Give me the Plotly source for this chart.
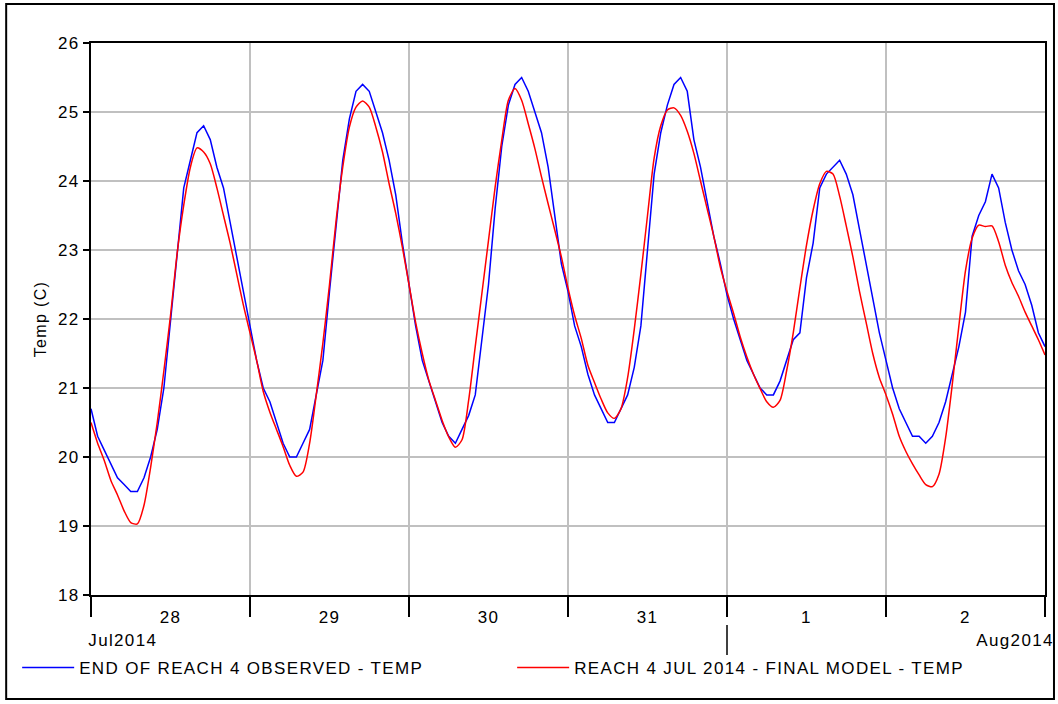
import pandas as pd
import plotly.graph_objects as go

# ---- data (hourly, 28 Jul 2014 00:00 -> 3 Aug 2014 00:00) ----
start_time = "2014-07-28 00:00"
n_hours = 145

observed_temp = [
    # Jul 28
    20.7, 20.3, 20.1, 19.9, 19.7, 19.6, 19.5, 19.5, 19.7, 20.0, 20.4, 21.0,
    22.0, 23.0, 23.9, 24.3, 24.7, 24.8, 24.6, 24.2, 23.9, 23.4, 22.9, 22.4,
    # Jul 29
    21.9, 21.4, 21.0, 20.8, 20.5, 20.2, 20.0, 20.0, 20.2, 20.4, 20.9, 21.4,
    22.4, 23.4, 24.3, 24.9, 25.3, 25.4, 25.3, 25.0, 24.7, 24.3, 23.8, 23.1,
    # Jul 30
    22.5, 21.9, 21.4, 21.1, 20.8, 20.5, 20.3, 20.2, 20.4, 20.6, 20.9, 21.7,
    22.5, 23.6, 24.5, 25.1, 25.4, 25.5, 25.3, 25.0, 24.7, 24.2, 23.5, 22.8,
    # Jul 31
    22.4, 21.9, 21.6, 21.2, 20.9, 20.7, 20.5, 20.5, 20.7, 20.9, 21.3, 21.9,
    23.0, 24.1, 24.7, 25.1, 25.4, 25.5, 25.3, 24.6, 24.2, 23.7, 23.2, 22.8,
    # Aug 1
    22.35, 22.0, 21.7, 21.4, 21.2, 21.0, 20.9, 20.9, 21.1, 21.4, 21.7, 21.8,
    22.6, 23.1, 23.9, 24.1, 24.2, 24.3, 24.1, 23.8, 23.3, 22.8, 22.3, 21.8,
    # Aug 2
    21.4, 21.0, 20.7, 20.5, 20.3, 20.3, 20.2, 20.3, 20.5, 20.8, 21.2, 21.6,
    22.1, 23.2, 23.5, 23.7, 24.1, 23.9, 23.4, 23.0, 22.7, 22.5, 22.2, 21.8,
    # Aug 3 00:00
    21.6,
]

model_temp = [
    # Jul 28
    20.5, 20.2, 19.95, 19.66, 19.45, 19.22, 19.05, 19.03, 19.3, 19.85, 20.5, 21.25,
    22.05, 22.95, 23.65, 24.2, 24.48, 24.42, 24.25, 23.9, 23.5, 23.1, 22.65, 22.2,
    # Jul 29
    21.8, 21.4, 20.95, 20.65, 20.4, 20.15, 19.88, 19.72, 19.78, 20.2, 20.9, 21.65,
    22.5, 23.43, 24.2, 24.78, 25.07, 25.16, 25.07, 24.78, 24.42, 23.96, 23.53, 23.04,
    # Jul 30
    22.5, 21.95, 21.5, 21.11, 20.82, 20.53, 20.29, 20.14, 20.25, 20.82, 21.6, 22.37,
    23.14, 23.91, 24.59, 25.17, 25.34, 25.17, 24.83, 24.47, 24.06, 23.67, 23.29, 22.9,
    # Jul 31
    22.45, 22.05, 21.72, 21.33, 21.08, 20.84, 20.64, 20.56, 20.7, 21.15, 21.85, 22.65,
    23.5, 24.33, 24.8, 25.03, 25.06, 24.95, 24.72, 24.4, 24.0, 23.6, 23.2, 22.75,
    # Aug 1
    22.4, 22.08, 21.74, 21.45, 21.2, 20.99, 20.8, 20.72, 20.82, 21.25, 21.8, 22.45,
    23.07, 23.58, 23.96, 24.14, 24.1, 23.78, 23.35, 22.9, 22.4, 21.95, 21.5, 21.15,
    # Aug 2
    20.9, 20.62, 20.3, 20.08, 19.9, 19.74, 19.6, 19.57, 19.75, 20.28, 21.05, 21.9,
    22.7, 23.17, 23.36, 23.34, 23.35, 23.12, 22.78, 22.53, 22.33, 22.1, 21.9, 21.7,
    # Aug 3 00:00
    21.48,
]

series_names = ["END OF REACH 4 OBSERVED - TEMP", "REACH 4 JUL 2014 - FINAL MODEL - TEMP"]
x_range = ["2014-07-28", "2014-08-03"]
month_labels = ["Jul2014", "Aug2014"]
month_break = "2014-08-01"
y_title = "Temp (C)"

times = pd.date_range(start_time, periods=n_hours, freq="h")

FONT = "Liberation Sans, Arial, sans-serif"

fig = go.Figure()
fig.add_trace(go.Scatter(
    x=times, y=observed_temp, mode="lines", name=series_names[0],
    line=dict(color="#0000ff", width=1.5),
))
fig.add_trace(go.Scatter(
    x=times, y=model_temp, mode="lines", name=series_names[1],
    line=dict(color="#ff0000", width=1.5, shape="spline", smoothing=0.7),
))

W, H = 1058, 704
L, R, T, B = 91, 1047, 43, 595
pw, ph = R - L, B - T


def px_x(p):
    return (p - L) / pw


def px_y(p):
    return (B - p) / ph


fig.update_layout(
    width=W, height=H,
    margin=dict(l=L, r=W - R, t=T, b=H - B, pad=0),
    paper_bgcolor="white", plot_bgcolor="white",
    font=dict(family=FONT, size=17, color="black"),
    showlegend=True,
    legend=dict(
        orientation="h", x=px_x(17), y=px_y(668), xanchor="left", yanchor="middle",
        font=dict(family=FONT, size=17, color="black"),
        entrywidth=428, entrywidthmode="pixels", itemwidth=52,
        bgcolor="rgba(0,0,0,0)", tracegroupgap=0,
    ),
    xaxis=dict(
        type="date", range=x_range, tick0=x_range[0], dtick=86400000,
        ticklabelmode="period", tickformat="%-d",
        showgrid=True, gridcolor="#c0c0c0", gridwidth=2,
        ticks="outside", ticklen=20, tickwidth=1.5, tickcolor="black",
        ticklabelstandoff=-14,
        showline=True, linecolor="black", linewidth=2, mirror=True,
        zeroline=False, tickfont=dict(size=17),
    ),
    yaxis=dict(
        range=[18, 26], tick0=18, dtick=1,
        showgrid=True, gridcolor="#c0c0c0", gridwidth=2,
        ticks="outside", ticklen=6, tickwidth=1.5, tickcolor="black",
        showline=True, linecolor="black", linewidth=2, mirror=True,
        zeroline=False, tickfont=dict(size=17),
        title=dict(text=y_title, font=dict(size=16), standoff=10),
    ),
)

# month row
fig.add_annotation(text=month_labels[0], xref="paper", yref="paper",
                   x=px_x(91), y=px_y(640), xanchor="left", yanchor="middle",
                   showarrow=False, font=dict(size=17))
fig.add_annotation(text=month_labels[1], xref="paper", yref="paper",
                   x=px_x(1053), y=px_y(640), xanchor="right", yanchor="middle",
                   showarrow=False, font=dict(size=17))
fig.add_shape(type="line", xref="x", yref="paper", x0=month_break, x1=month_break,
              y0=px_y(625), y1=px_y(655), line=dict(color="black", width=1.5))

# outer frame
fig.add_shape(type="rect", xref="paper", yref="paper",
              x0=px_x(6), x1=px_x(1056), y0=px_y(699), y1=px_y(4),
              line=dict(color="black", width=2), fillcolor="rgba(0,0,0,0)", layer="above")

post = """
(function(){
  document.documentElement.style.margin='0';
  document.documentElement.style.padding='0';
  document.body.style.margin='0';
  document.body.style.padding='0';
  document.body.style.overflow='hidden';
  function sp(){document.querySelectorAll('.main-svg text').forEach(function(t){t.style.letterSpacing='1.35px';});}
  sp();
  var gd=document.getElementById('{plot_id}');
  if(gd && gd.on){gd.on('plotly_afterplot', sp);}
  setTimeout(sp, 50);
})();
"""

fig.write_html("out.html", post_script=post, config={"displayModeBar": False})
